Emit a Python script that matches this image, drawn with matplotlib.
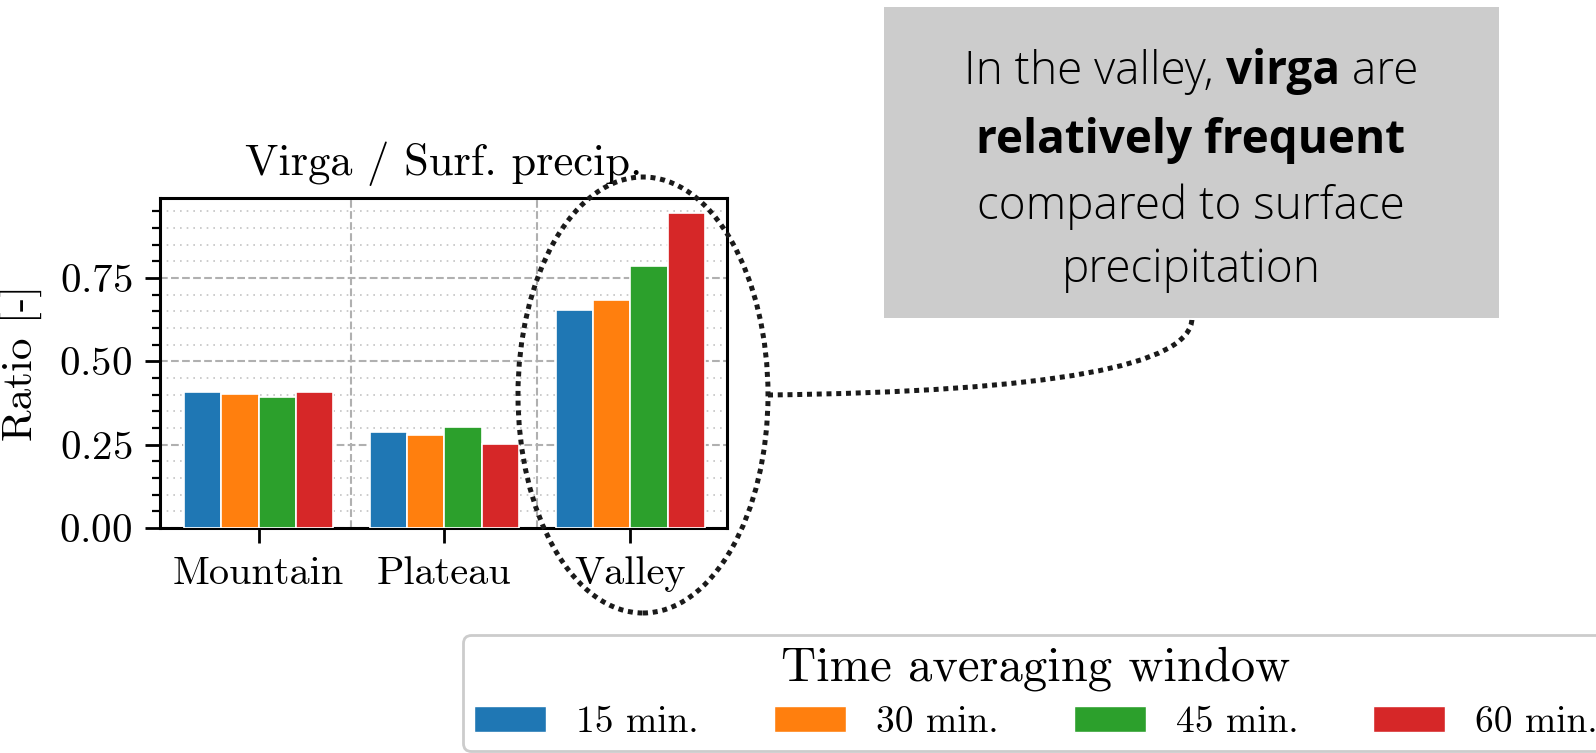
import matplotlib
matplotlib.use('Agg')
import matplotlib.pyplot as plt
from matplotlib.patches import Ellipse, Rectangle, PathPatch, Patch
from matplotlib.path import Path
from matplotlib.ticker import MultipleLocator
import numpy as np

plt.rcParams['font.family'] = 'cmr10'
plt.rcParams['axes.formatter.use_mathtext'] = True

sites = ['Mountain', 'Plateau', 'Valley']
windows = ['15 min.', '30 min.', '45 min.', '60 min.']
colors = ['#1f77b4', '#ff7f0e', '#2ca02c', '#d62728']

ratio_15 = [0.407, 0.289, 0.654]
ratio_30 = [0.402, 0.278, 0.684]
ratio_45 = [0.394, 0.303, 0.785]
ratio_60 = [0.407, 0.252, 0.945]
ratios = [ratio_15, ratio_30, ratio_45, ratio_60]

W, H = 1596, 753
fig = plt.figure(figsize=(W/100, H/100), dpi=100)

def fx(x):
    return x/W

def fy(y):
    return 1 - y/H

##
ax = fig.add_axes([fx(160), fy(528), (727-160)/W, (528-198)/H])
x = np.arange(len(sites))
bw = 0.2
for i, (vals, c, lab) in enumerate(zip(ratios, colors, windows)):
    ax.bar(x + (i-1.5)*bw, vals, bw, color=c, edgecolor='white',
           lw=1.2, label=lab, zorder=3)

ax.set_xlim(-0.53, 2.52)
ax.set_ylim(0, 0.99)
ax.set_xticks(x)
ax.set_xticklabels(sites)
ax.set_yticks([0, 0.25, 0.5, 0.75])
ax.yaxis.set_minor_locator(MultipleLocator(0.05))
ax.grid(axis='y', which='major', ls='--', color='#b0b0b0', lw=1.5, zorder=0)
ax.grid(axis='y', which='minor', ls=(0, (1, 3)), color='#c4c4c4', lw=1.2,
        zorder=0)
for xv in [0.5, 1.5]:
    ax.axvline(xv, ls='--', color='#b0b0b0', lw=1.5, zorder=0)
ax.set_axisbelow(True)
for s in ax.spines.values():
    s.set_linewidth(2.2)
ax.tick_params(which='major', length=11, width=2, pad=9)
ax.tick_params(axis='y', which='major', labelsize=29.5)
ax.tick_params(axis='x', which='major', labelsize=29)
ax.tick_params(which='minor', length=6, width=1.6)
ax.tick_params(axis='x', which='minor', length=0)
ax.set_ylabel('Ratio [-]', fontsize=31, labelpad=12)
ax.set_title('Virga / Surf. precip.', fontsize=32, pad=16.5)

# legend, shared for all bars
handles = [Patch(facecolor=c, edgecolor='white') for c in colors]
leg = fig.legend(handles, windows, loc='upper left',
                 bbox_to_anchor=(fx(463), fy(635)), ncol=4,
                 title='Time averaging window', fontsize=27,
                 title_fontsize=35, frameon=True, edgecolor='#cccccc',
                 fancybox=True, borderaxespad=0, borderpad=0.3,
                 labelspacing=0.4, handlelength=1.92, handleheight=0.66,
                 handletextpad=0.8, columnspacing=2.0, framealpha=1)
leg.get_frame().set_linewidth(2)

# highlight around the valley bars
ell = Ellipse((fx(643), fy(395)), 250/W, 436/H, transform=fig.transFigure,
              fill=False, ec='#1a1a1a', lw=3.6, ls=(0, (1, 0.95)), zorder=10)
fig.add_artist(ell)

p0 = (fx(768), fy(395))
p1 = (fx(1192), fy(390))
p2 = (fx(1192), fy(318))
conn = PathPatch(Path([p0, p1, p2], [Path.MOVETO, Path.CURVE3, Path.CURVE3]),
                 transform=fig.transFigure, fill=False, ec='#1a1a1a', lw=3.6,
                 ls=(0, (1, 0.95)), zorder=10)
fig.add_artist(conn)

box = Rectangle((fx(884), fy(318)), (1499-884)/W, (318-7)/H,
                transform=fig.transFigure, fc='#cccccc', ec='none', zorder=5)
fig.add_artist(box)

# annotation text, mixed weights on one line
note = [
    [('In the valley, ', 'light'), ('virga', 'bold'), (' are', 'light')],
    [('relatively frequent', 'bold')],
    [('compared to surface', 'light')],
    [('precipitation', 'light')],
]
baselines = [84, 153, 219, 282]
cx = 1191
renderer = fig.canvas.get_renderer()
for parts, yb in zip(note, baselines):
    texts = []
    for s, w in parts:
        t = fig.text(0, fy(yb), s, fontsize=33, family='Open Sans',
                     weight=w, ha='left', va='baseline', zorder=11)
        texts.append(t)
    widths = [t.get_window_extent(renderer).width for t in texts]
    x0 = cx - sum(widths)/2
    for t, wd in zip(texts, widths):
        t.set_x(fx(x0))
        x0 += wd

fig.savefig('out.png', dpi=100)
